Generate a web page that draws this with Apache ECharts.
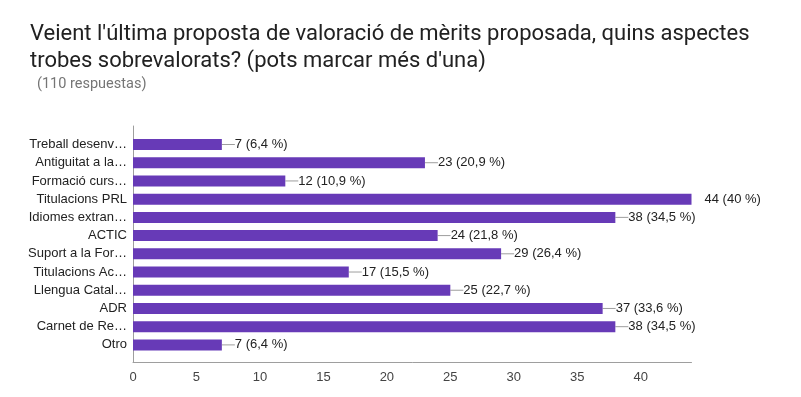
<!DOCTYPE html>
<html><head><meta charset="utf-8">
<script src="https://cdn.jsdelivr.net/npm/echarts@6/dist/echarts.min.js"></script>
<style>html,body{margin:0;padding:0;background:#fff}#c{width:801px;height:397px}</style>
</head><body><div id="c"></div>
<script>
const titleLines = ["Veient l'última proposta de valoració de mèrits proposada, quins aspectes", "trobes sobrevalorats? (pots marcar més d'una)"];
const subtitle = "(110 respuestas)";
const totalResponses = 110;
const categories = ["Treball desenv…", "Antiguitat a la…", "Formació curs…", "Titulacions PRL", "Idiomes extran…", "ACTIC", "Suport a la For…", "Titulacions Ac…", "Llengua Catal…", "ADR", "Carnet de Re…", "Otro"];
const counts = [7, 23, 12, 44, 38, 24, 29, 17, 25, 37, 38, 7];
const xTicks = [0, 5, 10, 15, 20, 25, 30, 35, 40];

const maxCount = Math.max(...counts);
function pct(v){ const p = v / totalResponses * 100; const s = (Math.round(p*10)/10).toString(); return s.replace('.', ','); }

const chart = echarts.init(document.getElementById('c'), null, {renderer:'canvas'});
const FONT = '"Liberation Sans", Arial, sans-serif';
chart.setOption({
  animation: false,
  backgroundColor: '#fff',
  title: [
    {text: titleLines.join('\n'), left: 25, top: 16, textStyle:{fontFamily:'Roboto', fontWeight:'normal', fontSize:22, lineHeight:27, color:'#212121'}},
    {text: subtitle, left: 32, top: 72, textStyle:{fontFamily:'Roboto', fontWeight:'normal', fontSize:14.5, color:'#757575'}}
  ],
  grid: [
    {left:133, right:109.5, top:135.4, bottom:43, containLabel:false},
    {left:133, right:109.5, top:126, bottom:34.5, containLabel:false}
  ],
  xAxis: [
    {gridIndex:0, type:'value', min:0, max:44, show:false},
    {gridIndex:1, type:'value', min:0, max:44, interval:5,
     axisLine:{show:true, lineStyle:{color:'#9e9e9e', width:1}}, axisTick:{show:false}, splitLine:{show:false},
     axisLabel:{color:'#444', fontFamily:FONT, fontSize:13, margin:8, showMaxLabel:false,
       formatter: v => xTicks.includes(v) ? String(v) : ''}}
  ],
  yAxis: [
    {gridIndex:0, type:'category', data:categories, inverse:true,
     axisLine:{show:false}, axisTick:{show:false},
     axisLabel:{color:'#222', fontFamily:FONT, fontSize:13, margin:6}},
    {gridIndex:1, type:'value', min:0, max:1, axisLine:{show:true, onZero:false, lineStyle:{color:'#9e9e9e', width:1}},
     axisTick:{show:false}, axisLabel:{show:false}, splitLine:{show:false}}
  ],
  series: [{
    type:'bar', xAxisIndex:0, yAxisIndex:0, barWidth:11,
    itemStyle:{color:'#673ab7'},
    data: counts.map(v => ({value:v, labelLine:{show: v !== maxCount}})),
    label:{show:true, position:'right', distance:0, color:'#222', fontFamily:FONT, fontSize:13,
      formatter: p => p.value + ' (' + pct(p.value) + ' %)'},
    labelLayout:{dx:13},
    labelLine:{show:true, lineStyle:{color:'#9e9e9e', width:1}}
  }]
});
</script></body></html>
